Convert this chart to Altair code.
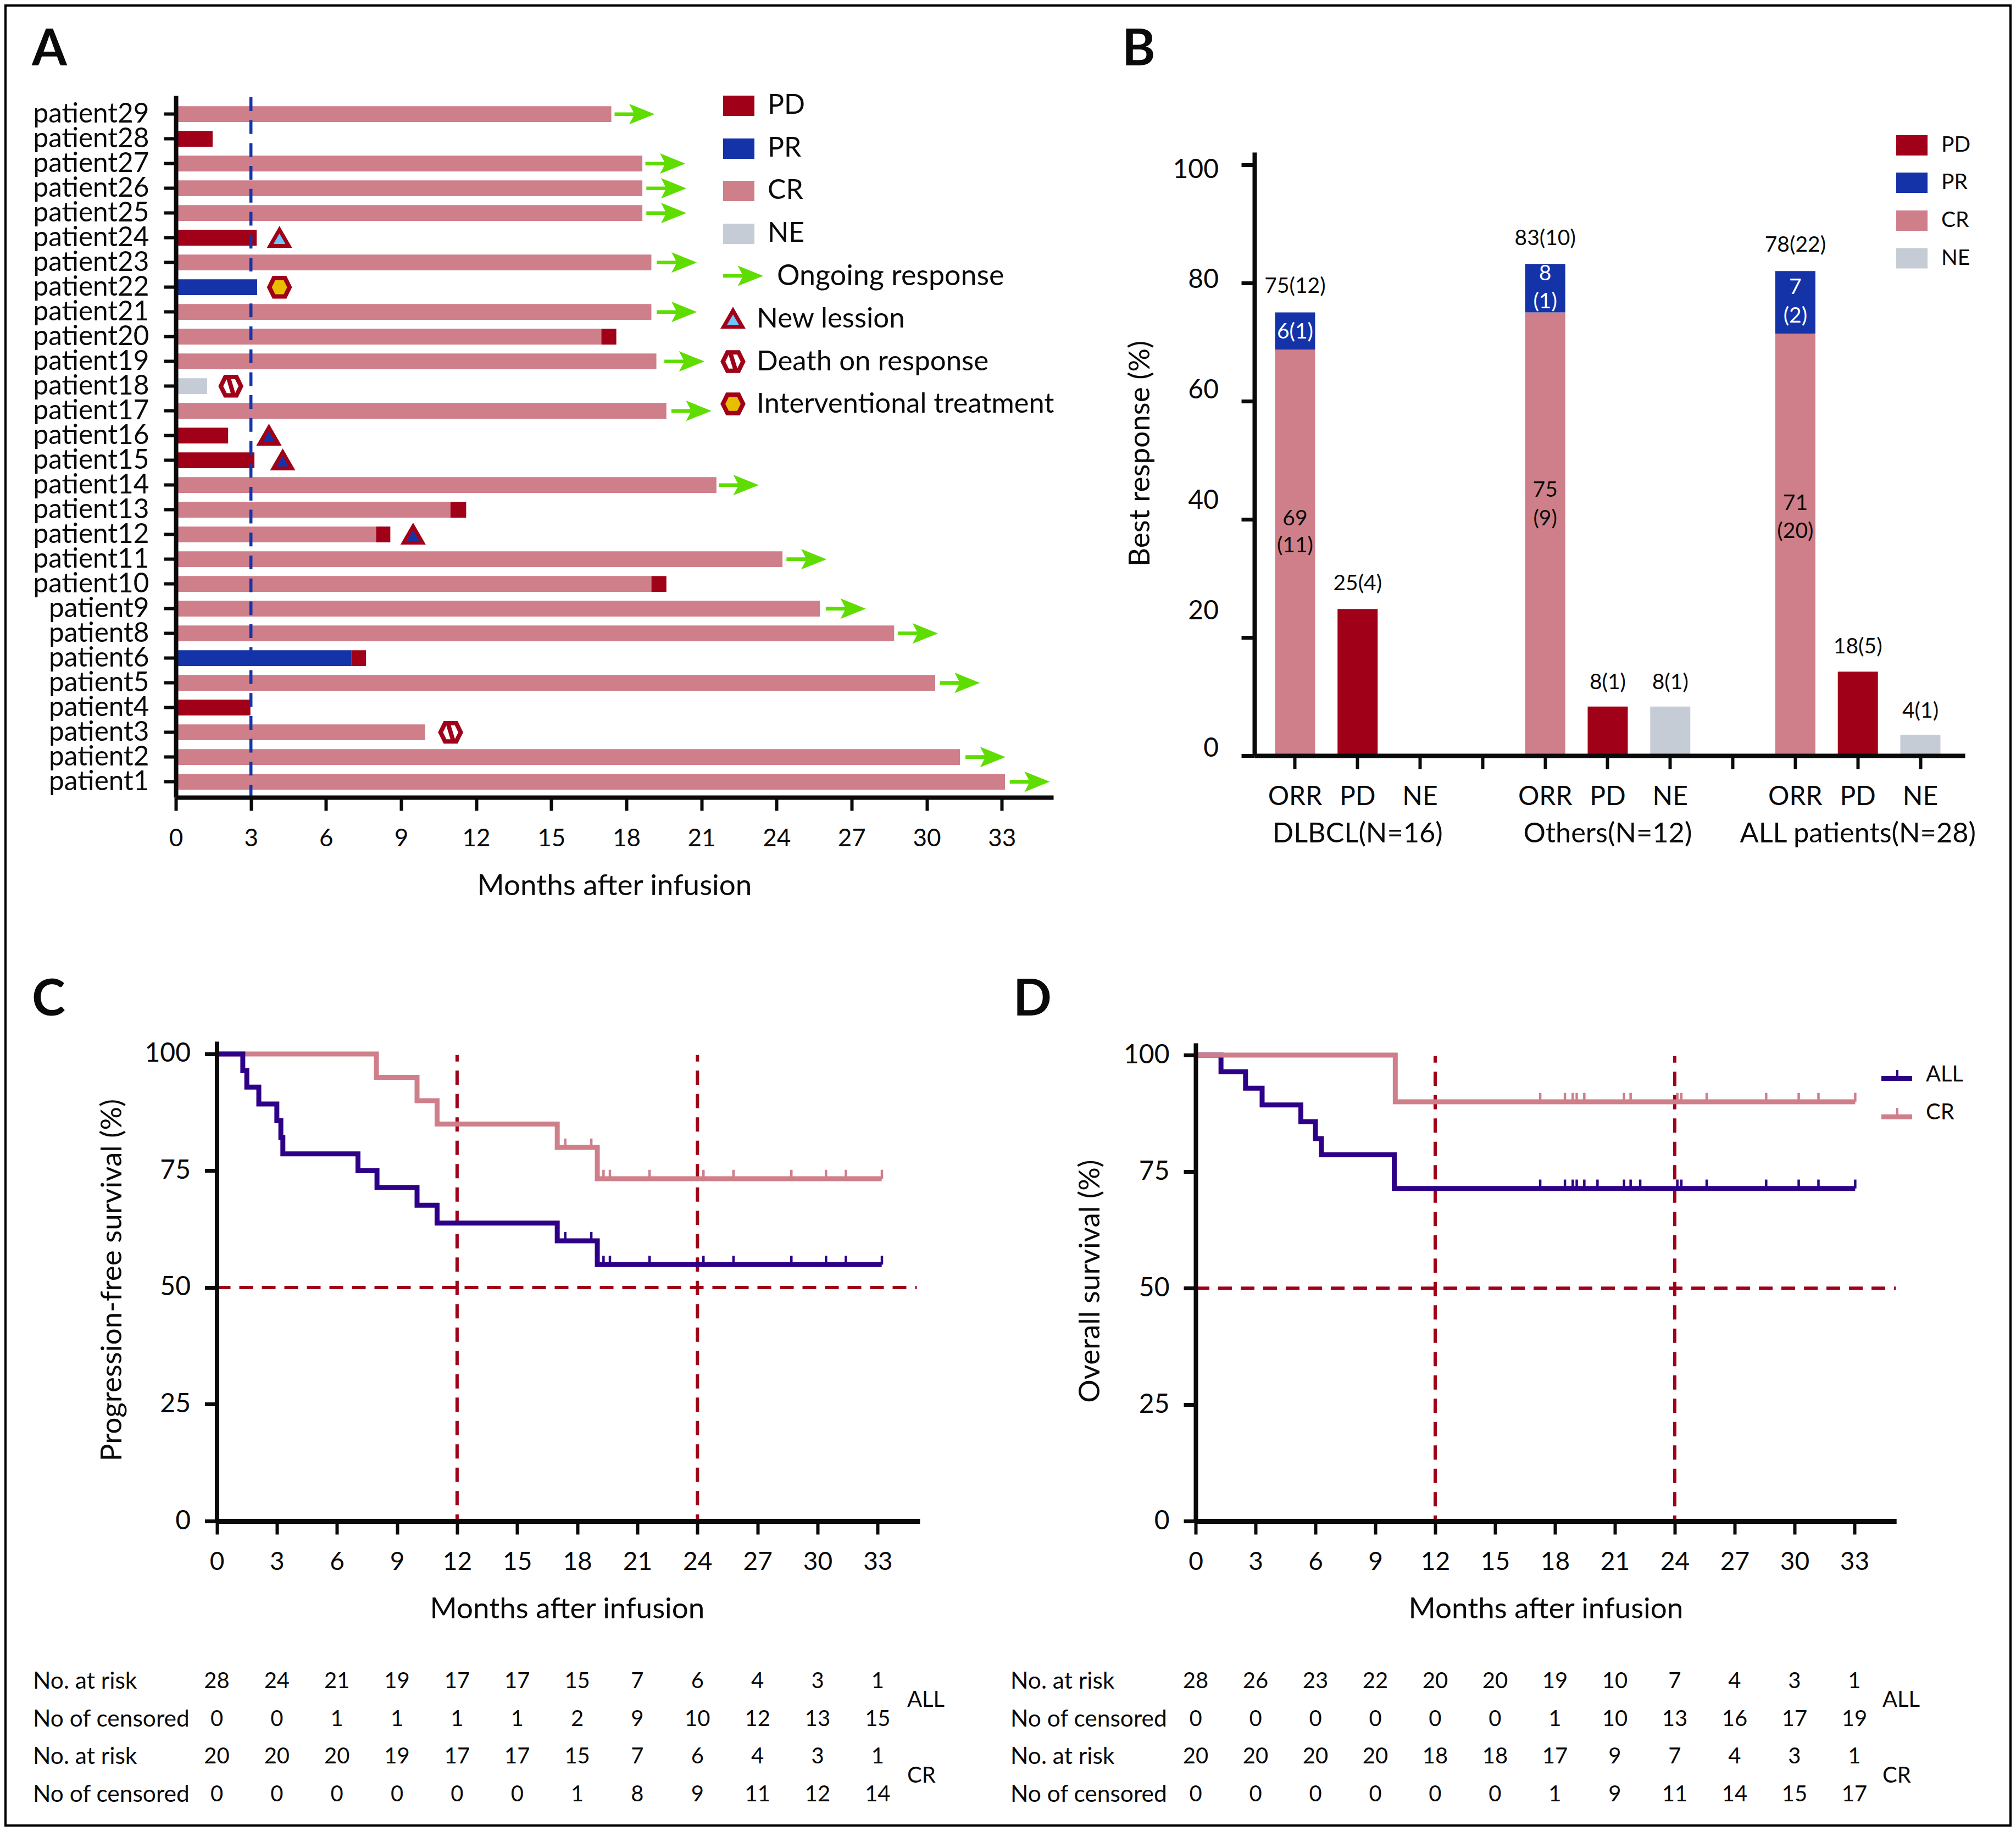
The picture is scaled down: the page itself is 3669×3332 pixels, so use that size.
import altair as alt
import pandas as pd

SANS = "Lato"
BLACK = "#0a0a0a"
C_PD, C_PR, C_CR, C_NE = "#A00018", "#1533A8", "#CF7F89", "#C5CCD5"
GREEN, PURPLE, LIGHT, GOLD = "#5FDD00", "#2E0088", "#6EC6FF", "#E8BE00"
STATUS = ["PD", "PR", "CR", "NE"]
STATUS_COL = [C_PD, C_PR, C_CR, C_NE]
ORG = 10  # page pixel of the chart origin

# ---------- panel A
patients = ["patient%d" % i for i in [29,28,27,26,25,24,23,22,21,20,19,18,17,16,15,14,13,12,11,10,9,8,6,5,4,3,2,1]]
seg_patient = ["patient29","patient28","patient27","patient26","patient25","patient24","patient23","patient22",
               "patient21","patient20","patient20","patient19","patient18","patient17","patient16","patient15",
               "patient14","patient13","patient13","patient12","patient12","patient11","patient10","patient10",
               "patient9","patient8","patient6","patient6","patient5","patient4","patient3","patient2","patient1"]
seg_start = [0,0,0,0,0,0,0,0, 0,0,17.0,0,0,0,0,0, 0,0,10.97,0,8.0,0,0,19.0, 0,0,0,7.02,0,0,0,0,0]
seg_end = [17.4,1.47,18.64,18.64,18.64,3.23,19.0,3.25, 19.0,17.0,17.6,19.2,1.25,19.6,2.09,3.14,
           21.6,10.97,11.6,8.0,8.57,24.24,19.0,19.6, 25.73,28.7,7.02,7.6,30.34,2.98,9.96,31.33,33.13]
seg_status = ["CR","PD","CR","CR","CR","PD","CR","PR", "CR","CR","PD","CR","NE","CR","PD","PD",
              "CR","CR","PD","CR","PD","CR","CR","PD", "CR","CR","PR","PD","CR","PD","CR","CR","CR"]
arrow_patient = ["patient29","patient27","patient26","patient25","patient23","patient21","patient19","patient17",
                 "patient14","patient11","patient9","patient8","patient5","patient2","patient1"]
arrow_month = [18.33,19.56,19.6,19.6,20.02,20.02,20.32,20.6,22.49,25.2,26.77,29.65,31.33,32.35,34.12]
tri_light_patient, tri_light_month = ["patient24"], [4.14]
tri_dark_patient, tri_dark_month = ["patient16","patient15","patient12"], [3.72,4.27,9.48]
death_patient, death_month = ["patient18","patient3"], [2.2,10.98]
interv_patient, interv_month = ["patient22"], [4.14]
ticks3 = [0,3,6,9,12,15,18,21,24,27,30,33]

# ---------- panel B
cats = ["ORR","PD","NE"," ","ORR ","PD ","NE ","  ","ORR  ","PD  ","NE  "]
bar_cat = ["ORR","ORR","PD","ORR ","ORR ","PD ","NE ","ORR  ","ORR  ","PD  ","NE  "]
bar_status = ["CR","PR","PD","CR","PR","PD","NE","CR","PR","PD","NE"]
bar_low = [0,68.7,0,0,75,0,0,0,71.4,0,0]
bar_high = [68.7,75,24.8,75,83.2,8.3,8.3,71.4,82,14.2,3.5]
lab_cat = ["ORR","ORR","ORR","ORR","PD", "ORR ","ORR ","ORR ","ORR ","ORR ","PD ","NE ",
           "ORR  ","ORR  ","ORR  ","ORR  ","ORR  ","PD  ","NE  "]
lab_y = [79.5,71.8,40.2,35.6,29.2, 87.6,81.6,76.9,45,40.2,12.5,12.5, 86.5,79.3,74.5,42.8,38,18.5,7.6]
lab_text = ["75(12)","6(1)","69","(11)","25(4)", "83(10)","8","(1)","75","(9)","8(1)","8(1)",
            "78(22)","7","(2)","71","(20)","18(5)","4(1)"]
lab_white = [0,1,0,0,0, 0,1,1,0,0,0,0, 0,1,1,0,0,0,0]
group_cat = ["PD","PD ","PD  "]
group_text = ["DLBCL(N=16)","Others(N=12)","ALL patients(N=28)"]
b_ticks = [0, 20, 40, 60, 80, 100]
# the reference's y labels do not sit on their ticks: these are where each is printed
b_tick_text = ["100", "80", "60", "40", "20", "0"]
b_tick_page_y = [307, 507, 708, 909, 1110, 1360]

# ---------- panel C
c_all_t = [0,1.3,1.5,2.1,3.0,3.2,3.3,7.05,8.0,10.0,11.0,17.0,19.0,33.2]
c_all_s = [100,96.4,92.9,89.3,85.7,82.1,78.6,75,71.4,67.6,63.8,60,54.9,54.9]
c_cr_t = [0,7.97,10.0,11.0,17.0,19.0,33.2]
c_cr_s = [100,95,90,85,80,73.3,73.3]
c_cens_t = [17.4,18.7,19.31,19.63,21.61,24.3,25.8,28.69,30.42,31.41,33.21]
c_all_cens_s = [60,60,54.9,54.9,54.9,54.9,54.9,54.9,54.9,54.9,54.9]
c_cr_cens_s = [80,80,73.3,73.3,73.3,73.3,73.3,73.3,73.3,73.3,73.3]
c_rows = [[28,24,21,19,17,17,15,7,6,4,3,1],[0,0,1,1,1,1,2,9,10,12,13,15],
          [20,20,20,19,17,17,15,7,6,4,3,1],[0,0,0,0,0,0,1,8,9,11,12,14]]

# ---------- panel D
d_all_t = [0,1.27,2.5,3.33,5.27,6.0,6.3,9.95,33.04]
d_all_s = [100,96.4,92.9,89.3,85.7,82.1,78.6,71.4,71.4]
d_cr_t = [0,10.0,33.04]
d_cr_s = [100,90,90]
d_all_cens_t = [17.26,18.5,18.89,19.09,19.47,20.13,21.46,21.79,22.27,24.13,24.33,25.6,28.58,30.21,31.2,33.04]
d_cr_cens_t = [17.26,18.5,18.89,19.09,19.47,21.46,21.79,24.13,24.33,25.6,28.58,30.21,31.2,33.04]
d_rows = [[28,26,23,22,20,20,19,10,7,4,3,1],[0,0,0,0,0,0,1,10,13,16,17,19],
          [20,20,20,20,18,18,17,9,7,4,3,1],[0,0,0,0,0,0,1,9,11,14,15,17]]
row_names = ["No. at risk","No of censored","No. at risk","No of censored"]

# ---------- shapes
ARROW = "M-1,-.09L-.05,-.09L-.27,-.51L1,0L-.27,.51L-.05,.09L-1,.09Z"
HEX = "M-1,0L-.55,-.91L.55,-.91L1,0L.55,.91L-.55,.91Z"
SLASH = "M-.5,-.9L-.05,-.9L.5,.9L.05,.9Z"
ONE = pd.DataFrame({"_": [0]})
NOAX = alt.Undefined


def px(v):
    return v - ORG


def ax(orient, at, **kw):
    base = dict(orient=orient, offset=(px(at) - H) if orient == "bottom" else -px(at), grid=False,
                domainColor=BLACK, tickColor=BLACK, labelColor=BLACK, titleColor=BLACK, labelFont=SANS,
                titleFont=SANS, titleFontWeight="normal", titleFontSize=53, labelOverlap=False, labelFlush=False,
                labelLimit=0, titleLimit=0, zindex=1, domainWidth=8, tickWidth=6, titleBaseline="middle")
    base.update(kw)
    return alt.Axis(**base)


def txt(s, x, y, size, font=SANS, align="left", weight="normal", baseline="middle"):
    return alt.Chart(ONE).mark_text(text=s, font=font, fontSize=size, align=align, baseline=baseline, dy=3 if baseline == "middle" else 0,
                                    fontWeight=weight, color=BLACK).encode(x=alt.value(px(x)), y=alt.value(px(y)))


def swatch(color, x0, x1, y0, y1):
    return alt.Chart(ONE).mark_rect(color=color).encode(x=alt.value(px(x0)), x2=alt.value(px(x1)),
                                                        y=alt.value(px(y0)), y2=alt.value(px(y1)))


def sym(shape, x, y, size, fill, stroke=None, sw=0):
    kw = dict(shape=shape, size=size, filled=True, fill=fill, opacity=1, strokeWidth=sw, strokeJoin="miter")
    if stroke:
        kw["stroke"] = stroke
    return alt.Chart(ONE).mark_point(**kw).encode(x=alt.value(px(x)), y=alt.value(px(y)))


W, H = 3649, 3312

color_enc = alt.Color("status:N", scale=alt.Scale(domain=STATUS, range=STATUS_COL), legend=None)

# ================= A
sxA = alt.Scale(domain=[0, 35.06], range=[px(320), px(1917)], nice=False, zero=False)
syA = alt.Scale(type="band", domain=patients, range=[px(174), px(1451)], paddingInner=0.362, paddingOuter=0.371, align=0.58)


def xA(f, axis=NOAX):
    return alt.X(f, scale=sxA, axis=axis)


def yA(f="p:N", axis=NOAX):
    return alt.Y(f, scale=syA, axis=axis, sort=None)


dfA = pd.DataFrame({"p": seg_patient, "a": seg_start, "b": seg_end, "status": seg_status})
barsA = alt.Chart(dfA).mark_bar().encode(
    x=xA("a:Q", ax("bottom", 1451, values=ticks3, format="d", title="Months after infusion", labelFontSize=44,
                   tickSize=24, labelPadding=29, titleX=px(1118), titleY=1612 - 1451, titleAngle=0)),
    x2="b:Q",
    y=yA("p:N", ax("left", 320, title=None, labelFontSize=49.5, tickSize=22, labelPadding=27, labelBaseline="middle")),
    color=color_enc)


def marksA(ps, ms, **mk):
    return alt.Chart(pd.DataFrame({"p": ps, "m": ms})).mark_point(filled=True, opacity=1, strokeJoin="miter", **mk).encode(
        x=xA("m:Q"), y=yA())


dashA = alt.Chart(pd.DataFrame({"m": [3]})).mark_rule(color=C_PR, strokeWidth=5.6, strokeDash=[25, 16.7]).encode(
    x=xA("m:Q"), y=alt.value(px(177)), y2=alt.value(px(1451)))

panelA = [
    barsA, dashA,
    marksA(arrow_patient, arrow_month, shape=ARROW, size=5329, fill=GREEN, strokeWidth=0),
    marksA(tri_light_patient, tri_light_month, shape="triangle-up", size=1156, fill=LIGHT, stroke=C_PD, strokeWidth=7),
    marksA(tri_dark_patient, tri_dark_month, shape="triangle-up", size=1156, fill=C_PR, stroke=C_PD, strokeWidth=7),
    marksA(death_patient, death_month, shape=HEX, size=1354, fill="white", stroke=C_PD, strokeWidth=8),
    marksA(death_patient, death_month, shape=SLASH, size=1354, fill=C_PD, strokeWidth=0),
    marksA(interv_patient, interv_month, shape=HEX, size=1354, fill=GOLD, stroke=C_PD, strokeWidth=8),
    txt("A", 58, 119, 92, weight="bold", baseline="alphabetic"),
]
for c, yy, lb in zip(STATUS_COL, [174, 252, 329, 407], STATUS):
    panelA.append(swatch(c, 1316, 1373, yy, yy + 37))
    panelA.append(txt(lb, 1397, yy + 15, 50))
panelA += [
    sym(ARROW, 1352.5, 502, 5329, GREEN),
    txt("Ongoing response", 1414, 500, 52),
    sym("triangle-up", 1334, 580, 1156, LIGHT, C_PD, 7),
    txt("New lession", 1377, 578, 51),
    sym(HEX, 1334, 658, 1354, "white", C_PD, 8),
    sym(SLASH, 1334, 658, 1354, C_PD),
    txt("Death on response", 1377, 656, 51),
    sym(HEX, 1334, 735, 1354, GOLD, C_PD, 8),
    txt("Interventional treatment", 1377, 733, 50.5),
]

# ================= B
sxB = alt.Scale(type="band", domain=cats, range=[px(2283), px(3576)], paddingInner=0.3585, paddingOuter=0.36, align=0.457)
syB = alt.Scale(domain=[0, 102.1], range=[px(1375), px(277)], nice=False, zero=False)
dfB = pd.DataFrame({"c": bar_cat, "status": bar_status, "lo": bar_low, "hi": bar_high})
barsB = alt.Chart(dfB).mark_bar().encode(
    x=alt.X("c:N", scale=sxB, sort=None,
            axis=ax("bottom", 1375, title=None, labelFontSize=48, tickSize=24, labelPadding=27, labelAngle=0,
                    labelExpr="trim(datum.value)")),
    y=alt.Y("hi:Q", scale=syB,
            axis=ax("left", 2283, values=b_ticks, title="Best response (%)", labels=False,
                    tickSize=24, tickWidth=7, titleX=px(2075) - px(2283), titleY=px(825), titleAngle=270)),
    y2="lo:Q", color=color_enc)
dfL = pd.DataFrame({"c": lab_cat, "v": lab_y, "t": lab_text, "w": lab_white})
panelB = [barsB]
for flag, col in [(0, BLACK), (1, "white")]:
    panelB.append(alt.Chart(dfL[dfL.w == flag]).mark_text(font=SANS, fontSize=39, color=col, baseline="middle", dy=1).encode(
        x=alt.X("c:N", scale=sxB, sort=None), y=alt.Y("v:Q", scale=syB), text="t:N"))
panelB.append(alt.Chart(pd.DataFrame({"c": group_cat, "t": group_text})).mark_text(
    font=SANS, fontSize=50.5, color=BLACK, baseline="middle", dy=3).encode(
    x=alt.X("c:N", scale=sxB, sort=None), y=alt.value(px(1515)), text="t:N"))
for s, yy in zip(b_tick_text, b_tick_page_y):
    panelB.append(txt(s, 2218, yy, 48, align="right"))
panelB.append(txt("B", 2042, 119, 92, weight="bold", baseline="alphabetic"))
for c, yy, lb in zip(STATUS_COL, [246, 314, 383, 451.5], STATUS):
    panelB.append(swatch(c, 3451, 3508, yy, yy + 37))
    panelB.append(txt(lb, 3533, yy + 15, 39))


# ================= C & D
def km(sx, sy, ylabel, ax_x, ylab_x, xtitle_x, ytitle_y, series, cens, table, left, rt, dash_end):
    layers = []
    X = lambda f, axis=NOAX: alt.X(f, scale=sx, axis=axis)
    Y = lambda f, axis=NOAX: alt.Y(f, scale=sy, axis=axis)
    base = alt.Chart(pd.DataFrame({"m": [12, 24], "top": [99.8, 99.8], "bot": [0, 0]})).mark_rule(
        color=C_PD, strokeWidth=6, strokeDash=[26, 16.5], strokeDashOffset=14).encode(
        x=X("m:Q", ax("bottom", 2768, values=ticks3, format="d", title="Months after infusion", labelFontSize=46,
                      tickSize=24, labelPadding=28, domainWidth=9, titleX=px(xtitle_x), titleY=2928 - 2768, titleAngle=0)),
        y=Y("top:Q", ax("left", ax_x, values=[0, 25, 50, 75, 100], title=ylabel, labelFontSize=48, tickSize=22,
                        labelPadding=26, tickWidth=7, titleX=px(ylab_x) - px(ax_x), titleY=px(ytitle_y), titleAngle=270)),
        y2="bot:Q")
    layers.append(base)
    layers.append(alt.Chart(pd.DataFrame({"a": [0], "b": [dash_end], "v": [50]})).mark_rule(
        color=C_PD, strokeWidth=6, strokeDash=[25, 16]).encode(x=X("a:Q"), x2="b:Q", y=Y("v:Q")))
    for (ts, ss, col) in series:
        layers.append(alt.Chart(pd.DataFrame({"t": ts, "s": ss})).mark_line(
            interpolate="step-after", color=col, strokeWidth=9, strokeJoin="miter", strokeCap="butt").encode(
            x=X("t:Q"), y=Y("s:Q")))
    for (ts, ss, col) in cens:
        layers.append(alt.Chart(pd.DataFrame({"t": ts, "s": ss})).transform_calculate(up="datum.s + 1.9").mark_rule(
            color=col, strokeWidth=4.5).encode(x=X("t:Q"), y=Y("s:Q"), y2="up:Q"))
    for row, name, yy in zip(table, row_names, [3057, 3126, 3194, 3263]):
        layers.append(txt(name, left, yy, 42.5))
        layers.append(alt.Chart(pd.DataFrame({"m": ticks3, "n": row})).mark_text(
            font=SANS, fontSize=40, color=BLACK, baseline="middle", dy=3).encode(
            x=X("m:Q"), y=alt.value(px(yy)), text="n:N"))
    layers.append(txt("ALL", rt, 3091, 40))
    layers.append(txt("CR", rt, 3229, 40))
    return layers


sxC = alt.Scale(domain=[0, 35.1], range=[px(394.5), px(1673.9)], nice=False, zero=False)
syC = alt.Scale(domain=[0, 102.7], range=[px(2768), px(1895)], nice=False, zero=False)
panelC = km(sxC, syC, "Progression-free survival (%)", 394.5, 204, 1032, 2329,
            [(c_cr_t, c_cr_s, C_CR), (c_all_t, c_all_s, PURPLE)],
            [(c_cens_t, c_cr_cens_s, C_CR), (c_cens_t, c_all_cens_s, PURPLE)],
            c_rows, 60, 1651, 34.95)
panelC.append(txt("C", 58, 1848, 92, weight="bold", baseline="alphabetic"))

sxD = alt.Scale(domain=[0, 35.1], range=[px(2176), px(3451.2)], nice=False, zero=False)
syD = alt.Scale(domain=[0, 102.6], range=[px(2768.4), px(1898)], nice=False, zero=False)
panelD = km(sxD, syD, "Overall survival (%)", 2176, 1984, 2813, 2331,
            [(d_all_t, d_all_s, PURPLE), (d_cr_t, d_cr_s, C_CR)],
            [(d_all_cens_t, [71.4] * len(d_all_cens_t), PURPLE), (d_cr_cens_t, [90] * len(d_cr_cens_t), C_CR)],
            d_rows, 1839, 3426, 35.07)
panelD += [
    txt("D", 1844, 1848, 92, weight="bold", baseline="alphabetic"),
    swatch(PURPLE, 3424, 3480, 1958, 1967), swatch(PURPLE, 3451, 3455, 1947, 1958), txt("ALL", 3505, 1953, 40),
    swatch(C_CR, 3424, 3480, 2028, 2037), swatch(C_CR, 3451, 3455, 2016, 2028), txt("CR", 3505, 2022, 40),
]

chart = alt.layer(alt.layer(*panelA), alt.layer(*panelB), alt.layer(*panelC), alt.layer(*panelD)).resolve_scale(
    x="independent", y="independent").properties(
    width=W, height=H, padding=2, autosize=alt.AutoSizeParams(type="none"), background="white"
).configure_view(stroke="black", strokeWidth=4)

chart.save("out.html", embed_options={"renderer": "svg", "actions": False})
